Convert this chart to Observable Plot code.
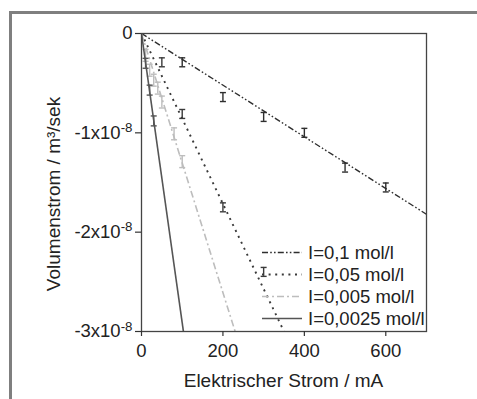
<!DOCTYPE html>
<html><head><meta charset="utf-8">
<script src="https://cdn.jsdelivr.net/npm/d3@7"></script>
<script src="https://cdn.jsdelivr.net/npm/@observablehq/plot@0.6"></script>
<style>
body{margin:0;background:#fff;}
#wrap{position:relative;width:477px;height:399px;overflow:hidden;background:#fff;}
#border{position:absolute;left:9px;top:11px;width:480px;height:400px;border-left:3px solid #7f7f7f;border-top:3px solid #7f7f7f;}
#chart{position:absolute;left:0;top:0;}
</style></head><body>
<div id="wrap"><div id="chart"></div><div id="border"></div></div>
<script>
// ---- data ----
const series = ["I=0,1 mol/l", "I=0,05 mol/l", "I=0,005 mol/l", "I=0,0025 mol/l"];
// fitted lines: from origin to end point (clipped at plot frame)
const lineEndX = [700, 350, 230, 103];
const lineEndY = [-1.82e-8, -3.0e-8, -3.0e-8, -3.0e-8];
// measured points with error bars
const x_01 = [100, 200, 300, 400, 500, 600];
const y_01 = [-0.29e-8, -0.64e-8, -0.84e-8, -1.00e-8, -1.35e-8, -1.55e-8];
const e_01 = [0.045e-8, 0.045e-8, 0.045e-8, 0.045e-8, 0.045e-8, 0.045e-8];
const x_005 = [50, 100, 200, 300];
const y_005 = [-0.29e-8, -0.81e-8, -1.75e-8, -2.40e-8];
const e_005 = [0.045e-8, 0.045e-8, 0.045e-8, 0.045e-8];
const x_0005 = [10, 20, 30, 40, 50, 80, 100];
const y_0005 = [-0.22e-8, -0.37e-8, -0.47e-8, -0.55e-8, -0.69e-8, -1.01e-8, -1.29e-8];
const e_0005 = [0.06e-8, 0.06e-8, 0.06e-8, 0.06e-8, 0.06e-8, 0.06e-8, 0.06e-8];
const x_00025 = [10, 20, 30];
const y_00025 = [-0.30e-8, -0.57e-8, -0.88e-8];
const e_00025 = [0.05e-8, 0.05e-8, 0.05e-8];
const xTicks = [0, 200, 400, 600];
const yTicks = [0, -1e-8, -2e-8, -3e-8];
const yTickLabels = ["0", "-1x10|-8", "-2x10|-8", "-3x10|-8"];

// ---- styles ----
const styles = [
  {stroke: "#2e2e2e", dash: "6,2.2,1.6,2.2,1.6,2.2", width: 1.4, cap: "butt"},
  {stroke: "#3a3a3a", dash: "2,4.6", width: 1.9, cap: "butt"},
  {stroke: "#bdbdbd", dash: "7,3,2,3", width: 1.6, cap: "butt"},
  {stroke: "#555555", dash: null, width: 1.6, cap: "butt"}
];
const pts = [[x_01, y_01, e_01], [x_005, y_005, e_005], [x_0005, y_0005, e_0005], [x_00025, y_00025, e_00025]]
  .map(([xs, ys, es]) => xs.map((x, i) => ({x, y: ys[i], lo: ys[i] - es[i], hi: ys[i] + es[i]})));

const hline = {draw(context, size) { const r = Math.sqrt(size / Math.PI); context.moveTo(-r, 0); context.lineTo(r, 0); }};

const marks = [];
series.forEach((name, i) => {
  const s = styles[i];
  marks.push(Plot.line([{x: 0, y: 0}, {x: lineEndX[i], y: lineEndY[i]}], {
    x: "x", y: "y", stroke: s.stroke, strokeWidth: s.width, strokeDasharray: s.dash, strokeLinecap: s.cap, clip: true
  }));
  marks.push(Plot.ruleX(pts[i], {x: "x", y1: "lo", y2: "hi", stroke: s.stroke, strokeWidth: 1.4}));
  marks.push(Plot.dot(pts[i], {x: "x", y: "lo", symbol: hline, r: 3, stroke: s.stroke, strokeWidth: 1.4}));
  marks.push(Plot.dot(pts[i], {x: "x", y: "hi", symbol: hline, r: 3, stroke: s.stroke, strokeWidth: 1.4}));
});
marks.push(Plot.frame({stroke: "#444", strokeWidth: 1.3}));
marks.push(Plot.axisX({ticks: xTicks, tickSize: 5, tickPadding: 7, label: null, stroke: "#333", strokeWidth: 1.2}));
marks.push(Plot.axisY({ticks: yTicks, tickSize: 6, tickPadding: 3, label: null,
  tickFormat: d => yTickLabels[yTicks.indexOf(d)], stroke: "#333", strokeWidth: 1.2}));

const chart = Plot.plot({
  width: 477, height: 399,
  marginLeft: 141, marginRight: 51, marginTop: 33, marginBottom: 68,
  x: {domain: [0, 700]},
  y: {domain: [-3e-8, 0]},
  style: {fontFamily: "'Liberation Sans', Arial, sans-serif", fontSize: "18.5px", color: "#222", background: "#fff"},
  marks
});
document.getElementById("chart").appendChild(chart);

const svg = d3.select(chart);
// superscripts in y tick labels
svg.selectAll('g[aria-label="y-axis tick label"] text').each(function() {
  const t = this.textContent;
  if (t.includes("|")) {
    const [base, sup] = t.split("|");
    const el = d3.select(this);
    el.text(base);
    el.append("tspan").attr("dy", "-0.5em").attr("font-size", "0.72em").text(sup);
  }
});
// axis titles
svg.append("text").attr("x", 283.5).attr("y", 387).attr("text-anchor", "middle")
  .attr("font-size", "19px").attr("fill", "#222").text("Elektrischer Strom / mA");
svg.append("text").attr("transform", "translate(60,194) rotate(-90)").attr("text-anchor", "middle")
  .attr("font-size", "19px").attr("fill", "#222").text("Volumenstrom / m³/sek");
// legend
const lg = svg.append("g");
series.forEach((name, i) => {
  const s = styles[i];
  const yy = 252.5 + i * 22;
  lg.append("line").attr("x1", 262).attr("x2", 302).attr("y1", yy).attr("y2", yy)
    .attr("stroke", s.stroke).attr("stroke-width", s.width).attr("stroke-dasharray", s.dash);
  lg.append("text").attr("x", 308).attr("y", yy).attr("dy", "0.36em").attr("text-anchor", "start")
    .attr("fill", "#222").text(name);
});
</script>
</body></html>
